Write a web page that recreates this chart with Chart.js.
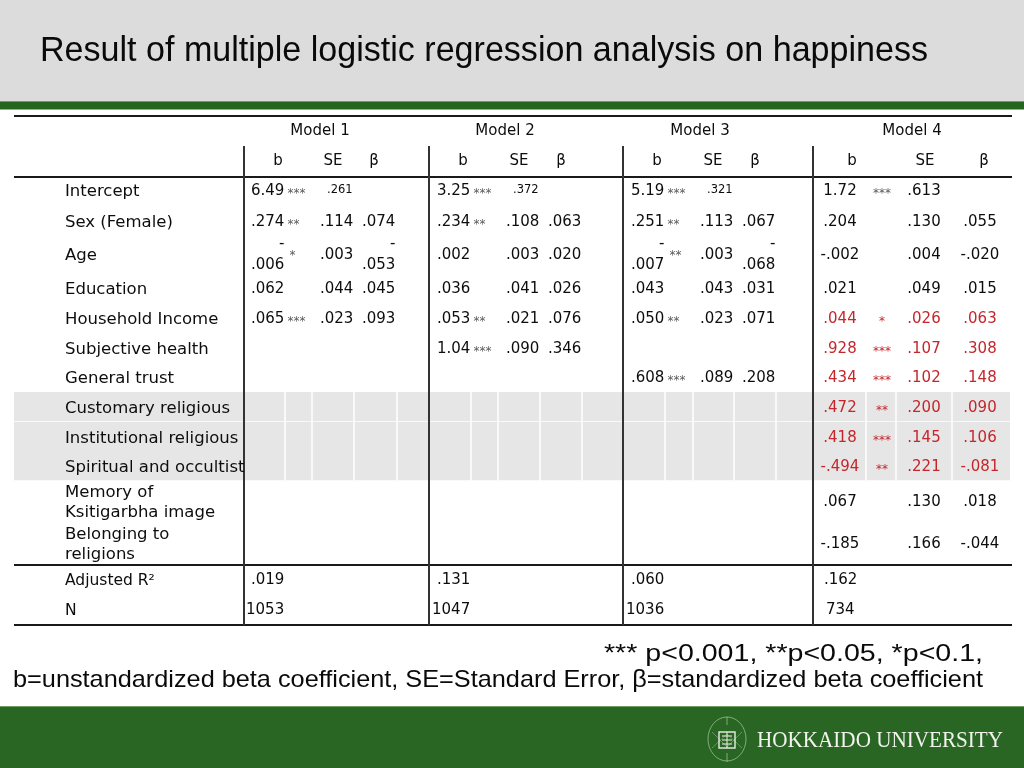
<!DOCTYPE html>
<html>
<head>
<meta charset="utf-8">
<script src="https://cdn.jsdelivr.net/npm/chart.js@4.4.0/dist/chart.umd.min.js"></script>
<style>
  html, body { margin: 0; padding: 0; width: 1024px; height: 768px; overflow: hidden; background: #fff; }
  body { font-family: "Liberation Sans", Arial, sans-serif; position: relative; }
  #head { position: absolute; left: 0; top: 0; width: 1024px; height: 101px; background: #dcdcdc; }
  #stripe { position: absolute; left: 0; top: 101px; width: 1024px; height: 7px; background: #26651f;
            border-top: 1px solid #6f9d62; border-bottom: 1px solid #8fb585; }
  #foot { position: absolute; left: 0; top: 706px; width: 1024px; height: 62px; background: #2a6623;
          border-top: 1px solid #6f9d62; }
  #logo { position: absolute; left: 704px; top: 712px; }
  canvas { position: absolute; left: 0; top: 0; }
  .txt { position: absolute; white-space: nowrap; transform-origin: 0 0; line-height: 1; color: #0a0a0a; }
  #title { left: 40px; top: 32px; font-size: 35.5px; }
  #note1 { left: 604px; top: 641px; font-size: 24px; }
  #note2 { left: 13px; top: 667px; font-size: 24px; }
  #uni { left: 757px; top: 728px; font-size: 23px; font-family: "Liberation Serif", "DejaVu Serif", serif; color: #f2f2ee; }
</style>
</head>
<body>
<div id="head"></div>
<div id="stripe"></div>
<div id="foot"></div>
<svg id="logo" width="46" height="54" viewBox="0 0 46 54">
  <ellipse cx="23" cy="27" rx="19" ry="22" fill="none" stroke="#a9c79f" stroke-width="1" opacity="0.7"/>
  <path d="M8 20 L23 35 L38 20 M8 36 L23 22 L38 36" fill="none" stroke="#a9c79f" stroke-width="0.8" opacity="0.6"/>
  <rect x="15" y="20" width="16" height="16" fill="none" stroke="#e8efe4" stroke-width="1.4"/>
  <path d="M18 24 h10 M18 28 h10 M18 32 h10 M23 20 v16" stroke="#e8efe4" stroke-width="1"/>
  <path d="M23 5 v8 M23 41 v9" stroke="#a9c79f" stroke-width="1" opacity="0.7"/>
</svg>
<canvas id="tableChart" width="1024" height="768"></canvas>
<div id="title" class="txt" data-w="888">Result of multiple logistic regression analysis on happiness</div>
<div id="note1" class="txt" data-w="379">*** p&lt;0.001, **p&lt;0.05, *p&lt;0.1,</div>
<div id="note2" class="txt" data-w="970">b=unstandardized beta coefficient, SE=Standard Error, β=standardized beta coefficient</div>
<div id="uni" class="txt" data-w="246">HOKKAIDO UNIVERSITY</div>
<script>
// ---- data ----
const models = ['Model 1', 'Model 2', 'Model 3', 'Model 4'];
const subHeads = ['b', 'SE', 'β'];
const variables = ['Intercept', 'Sex (Female)', 'Age', 'Education', 'Household Income',
  'Subjective health', 'General trust', 'Customary religious', 'Institutional religious',
  'Spiritual and occultist', 'Memory of\nKsitigarbha image', 'Belonging to\nreligions'];

const model1B    = [6.49, 0.274, -0.006, 0.062, 0.065, null, null, null, null, null, null, null];
const model1Sig  = ['***', '**', '*', '', '***', '', '', '', '', '', '', ''];
const model1SE   = [0.261, 0.114, 0.003, 0.044, 0.023, null, null, null, null, null, null, null];
const model1Beta = [null, 0.074, -0.053, 0.045, 0.093, null, null, null, null, null, null, null];

const model2B    = [3.25, 0.234, 0.002, 0.036, 0.053, 1.04, null, null, null, null, null, null];
const model2Sig  = ['***', '**', '', '', '**', '***', '', '', '', '', '', ''];
const model2SE   = [0.372, 0.108, 0.003, 0.041, 0.021, 0.090, null, null, null, null, null, null];
const model2Beta = [null, 0.063, 0.020, 0.026, 0.076, 0.346, null, null, null, null, null, null];

const model3B    = [5.19, 0.251, -0.007, 0.043, 0.050, null, 0.608, null, null, null, null, null];
const model3Sig  = ['***', '**', '**', '', '**', '', '***', '', '', '', '', ''];
const model3SE   = [0.321, 0.113, 0.003, 0.043, 0.023, null, 0.089, null, null, null, null, null];
const model3Beta = [null, 0.067, -0.068, 0.031, 0.071, null, 0.208, null, null, null, null, null];

const model4B    = [1.72, 0.204, -0.002, 0.021, 0.044, 0.928, 0.434, 0.472, 0.418, -0.494, 0.067, -0.185];
const model4Sig  = ['***', '', '', '', '*', '***', '***', '**', '***', '**', '', ''];
const model4SE   = [0.613, 0.130, 0.004, 0.049, 0.026, 0.107, 0.102, 0.200, 0.145, 0.221, 0.130, 0.166];
const model4Beta = [null, 0.055, -0.020, 0.015, 0.063, 0.308, 0.148, 0.090, 0.106, -0.081, 0.018, -0.044];

const adjustedR2 = [0.019, 0.131, 0.060, 0.162];
const sampleN = [1053, 1047, 1036, 734];

// ---- layout and style ----
const FONT = '"DejaVu Sans", Verdana, sans-serif';
const INK = '#0d0d0d';
const STAR = '#5a5a5a';
const RED = '#c4262b';
const redRows = ['Household Income', 'Subjective health', 'General trust', 'Customary religious',
  'Institutional religious', 'Spiritual and occultist'];
const shadedRows = ['Customary religious', 'Institutional religious', 'Spiritual and occultist'];

const tableLeft = 14, tableRight = 1012, shadeRight = 1010;
const ruleY = [116, 177, 565, 625];
const sepX = [244, 429, 623, 813];
const sepTop = 146;
const cellEdges = [285, 312, 354, 397, 471, 498, 540, 582, 665, 693, 734, 776, 866, 896, 952];
const labelX = 65;
const textShift = 1.5;
const modelTitleY = 130, subHeadY = 160;
const rowY = [190, 221, 254, 288, 318, 348, 377, 407, 437, 466, 501, 543];
const shadeY = [407, 437, 466];
const summaryY = [579, 609];
const rowHalf = 15;
const modelCols = [
  { title: 320, heads: [278, 333, 374], b: 251, se: 320, beta: 362 },
  { title: 505, heads: [463, 519, 561], b: 437, se: 506, beta: 548 },
  { title: 700, heads: [657, 713, 755], b: 631, se: 700, beta: 742 },
  { title: 912, heads: [852, 925, 984], b: 840, sig: 882, se: 924, beta: 980 }
];
const summaryX = [[251, 437, 631, 824], [246, 432, 626, 826]];

const bVals = [model1B, model2B, model3B, model4B];
const sigVals = [model1Sig, model2Sig, model3Sig, model4Sig];
const seVals = [model1SE, model2SE, model3SE, model4SE];
const betaVals = [model1Beta, model2Beta, model3Beta, model4Beta];

function fmt(v) {
  if (Math.abs(v) >= 100) return v.toFixed(0);
  if (Math.abs(v) >= 1) return v.toFixed(2);
  return v.toFixed(3).replace('0.', '.');
}

// one entry per text cell; drawn at the point the scatter dataset places it
const cells = [];
const font = (px) => px + 'px ' + FONT;

models.forEach((m, k) => {
  const L = modelCols[k];
  cells.push({ x: L.title, y: modelTitleY, lines: [m], font: font(15), align: 'center', color: INK });
  subHeads.forEach((h, j) => cells.push({ x: L.heads[j], y: subHeadY, lines: [h], font: font(15), align: 'center', color: INK }));
});

variables.forEach((name, r) => {
  const yc = rowY[r];
  cells.push({ x: labelX, y: yc, lines: name.split('\n'), font: font(16.5), align: 'left', color: INK });
  models.forEach((m, k) => {
    const L = modelCols[k];
    const b = bVals[k][r], sig = sigVals[k][r], se = seVals[k][r], beta = betaVals[k][r];
    if (k < 3) {
      if (b != null) cells.push({ x: L.b, y: yc, text: fmt(b), sig, wrap: b < 0, font: font(15), align: 'left', color: INK });
      if (se != null) {
        const small = name === 'Intercept';
        cells.push({ x: L.se + (small ? 7 : 0), y: yc - (small ? 1 : 0), text: fmt(se), font: font(small ? 11.5 : 15), align: 'left', color: INK });
      }
      if (beta != null) cells.push({ x: L.beta, y: yc, text: fmt(beta), wrap: beta < 0, font: font(15), align: 'left', color: INK });
    } else {
      const color = redRows.includes(name) ? RED : INK;
      if (b != null) cells.push({ x: L.b, y: yc, lines: [fmt(b)], font: font(15), align: 'center', color });
      if (sig) cells.push({ x: L.sig, y: yc + 2, lines: [sig], font: font(12), align: 'center', color: color === RED ? RED : STAR });
      if (se != null) cells.push({ x: L.se, y: yc, lines: [fmt(se)], font: font(15), align: 'center', color });
      if (beta != null) cells.push({ x: L.beta, y: yc, lines: [fmt(beta)], font: font(15), align: 'center', color });
    }
  });
});

cells.push({ x: labelX, y: summaryY[0], lines: ['Adjusted R²'], font: font(15.5), align: 'left', color: INK });
cells.push({ x: labelX, y: summaryY[1], lines: ['N'], font: font(15.5), align: 'left', color: INK });
adjustedR2.forEach((v, k) => cells.push({ x: summaryX[0][k], y: summaryY[0], lines: [fmt(v)], font: font(15), align: 'left', color: INK }));
sampleN.forEach((v, k) => cells.push({ x: summaryX[1][k], y: summaryY[1], lines: [fmt(v)], font: font(15), align: 'left', color: INK }));

const tablePlugin = {
  id: 'regTable',
  beforeDatasetsDraw(chart) {
    const { ctx, scales: { x, y } } = chart;
    const px = (v) => x.getPixelForValue(v), py = (v) => y.getPixelForValue(v);
    ctx.save();
    // shaded rows
    shadedRows.forEach((name, s) => {
      const yc = shadeY[s];
      ctx.fillStyle = '#e6e6e6';
      ctx.fillRect(px(tableLeft), py(yc - rowHalf), px(shadeRight) - px(tableLeft), py(yc + rowHalf) - py(yc - rowHalf));
      ctx.strokeStyle = '#ffffff';
      ctx.lineWidth = 1.5;
      ctx.beginPath();
      cellEdges.forEach((ex) => { ctx.moveTo(px(ex), py(yc - rowHalf)); ctx.lineTo(px(ex), py(yc + rowHalf)); });
      ctx.moveTo(px(tableLeft), py(yc + rowHalf)); ctx.lineTo(px(shadeRight), py(yc + rowHalf));
      ctx.stroke();
    });
    // horizontal rules
    ctx.strokeStyle = '#1a1a1a';
    ctx.lineWidth = 2;
    ctx.beginPath();
    ruleY.forEach((ry) => { ctx.moveTo(px(tableLeft), py(ry)); ctx.lineTo(px(tableRight), py(ry)); });
    ctx.stroke();
    // vertical separators between models
    ctx.strokeStyle = '#333333';
    ctx.lineWidth = 2;
    ctx.beginPath();
    sepX.forEach((sx) => { ctx.moveTo(px(sx), py(sepTop)); ctx.lineTo(px(sx), py(ruleY[3])); });
    ctx.stroke();
    ctx.restore();
  },
  afterDatasetsDraw(chart) {
    const { ctx } = chart;
    const meta = chart.getDatasetMeta(0);
    ctx.save();
    ctx.textBaseline = 'middle';
    meta.data.forEach((pt, i) => {
      const c = cells[i];
      const yy = pt.y + textShift;
      ctx.font = c.font;
      ctx.fillStyle = c.color;
      ctx.textAlign = c.align;
      if (c.text != null) {
        // models 1-3: narrow cells, minus wraps onto its own line
        const shown = c.wrap ? c.text.slice(1) : c.text;
        ctx.fillText(shown, pt.x, c.wrap ? yy + 10 : yy);
        const w = ctx.measureText(shown).width;
        if (c.wrap) {
          ctx.textAlign = 'right';
          ctx.fillText('-', pt.x + w, yy - 11);
        }
        if (c.sig) {
          ctx.font = font(12);
          ctx.fillStyle = STAR;
          ctx.textAlign = 'left';
          ctx.fillText(c.sig, pt.x + w + (c.wrap ? 5 : 3), yy + (c.wrap ? 0 : 2));
        }
      } else {
        const n = c.lines.length;
        c.lines.forEach((ln, j) => ctx.fillText(ln, pt.x, yy + (j - (n - 1) / 2) * 20.5));
      }
    });
    ctx.restore();
  }
};

new Chart(document.getElementById('tableChart'), {
  type: 'scatter',
  data: {
    datasets: [{
      data: cells.map((c) => ({ x: c.x, y: c.y })),
      pointRadius: 0,
      pointHoverRadius: 0
    }]
  },
  options: {
    responsive: false,
    animation: false,
    events: [],
    layout: { padding: 0 },
    plugins: { legend: { display: false }, tooltip: { enabled: false } },
    scales: {
      x: { type: 'linear', min: 0, max: 1024, display: false },
      y: { type: 'linear', min: 0, max: 768, reverse: true, display: false }
    }
  },
  plugins: [tablePlugin]
});

// squeeze slide texts to the widths in the reference
document.querySelectorAll('[data-w]').forEach((el) => {
  const w = el.getBoundingClientRect().width;
  el.style.transform = 'scaleX(' + (Number(el.dataset.w) / w) + ')';
});
</script>
</body>
</html>
